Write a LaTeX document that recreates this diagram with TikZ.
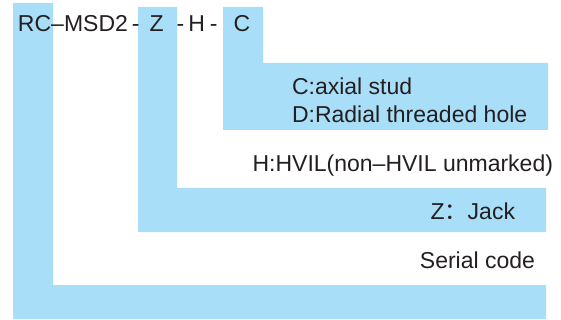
\documentclass[tikz,border=0pt]{standalone}
\usepackage{fontspec}
\setmainfont{Liberation Sans}
\newfontfamily\cjkfont{Noto Sans CJK SC}
\usepackage{tikz}
\usetikzlibrary{positioning}
\definecolor{bandblue}{RGB}{168,222,247}
\definecolor{inkgray}{RGB}{35,31,32}

\begin{document}
\begin{tikzpicture}[x=0.5pt,y=-0.5pt,node distance=0pt]
\tikzstyle{band}=[fill=bandblue,draw=none]
\tikzstyle{code}=[inner sep=0pt,outer sep=0pt,text=inkgray]
\tikzstyle{note}=[inner sep=0pt,outer sep=0pt,text=inkgray]
\tikzset{font=\fontsize{11.5pt}{14}\selectfont}

\useasboundingbox (0,0) rectangle (561,320);

        % bands under the code letters
        \fill[band] (13,3) -- (53,3) -- (53,285) -- (546,285) -- (546,319) -- (13,319) -- cycle;
        \fill[band] (138,7) -- (177,7) -- (177,188) -- (546,188) -- (546,232) -- (138,232) -- cycle;
        \fill[band] (223,7) -- (263,7) -- (263,63) -- (548,63) -- (548,130) -- (223,130) -- cycle;

        \node[code, anchor=base west]        (rc)   at (18,32)                 {RC};
        \node[code]                          (d1)   [base right=0pt of rc]     {–};
        \node[code]                          (msd)  [base right=0pt of d1]     {MSD2};
        \node[code]                          (d2)   [base right=2pt of msd]    {-};
        \node[code]                          (z)    [base right=5pt of d2]     {Z};
        \node[code]                          (d3)   [base right=6.5pt of z]    {-};
        \node[code]                          (h)    [base right=2pt of d3]     {H};
        \node[code]                          (d4)   [base right=2.5pt of h]    {-};
        \node[code]                          (c)    [base right=8pt of d4]     {C};

        \node[note, anchor=base west]        (cstud)   at (292,95)     {C:axial stud};
        \node[note, anchor=base west]        (dhole)   at (292,123)    {D:Radial threaded hole};
        \node[note, anchor=base east]        (hvil)    at (553,172)    {H:HVIL(non–HVIL unmarked)};
        \node[note, anchor=base east]        (jack)    at (515,220)    {Z{\cjkfont ：}Jack};
        \node[note, anchor=base east]        (serial)  at (535,268)    {Serial code};

\end{tikzpicture}
\end{document}
